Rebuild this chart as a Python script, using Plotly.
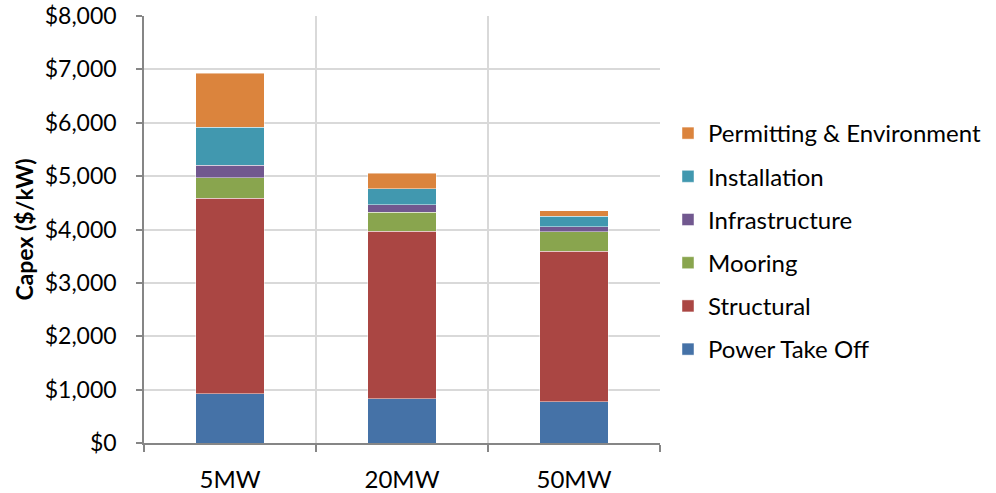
import plotly.graph_objects as go

categories = ["5MW", "20MW", "50MW"]
power_take_off = [924, 825, 769]
structural = [3662, 3143, 2824]
mooring = [383, 356, 363]
infrastructure = [236, 139, 100]
installation = [713, 305, 193]
permitting = [1010, 282, 107]

series = [
    ("Power Take Off", power_take_off, "#4572A7"),
    ("Structural", structural, "#AA4643"),
    ("Mooring", mooring, "#89A54E"),
    ("Infrastructure", infrastructure, "#71588F"),
    ("Installation", installation, "#4198AF"),
    ("Permitting & Environment", permitting, "#DB843D"),
]

FONT = "Lato"
fig = go.Figure()
n = len(series)
for i, (name, vals, color) in enumerate(series):
    fig.add_trace(go.Bar(
        x=categories, y=vals, name=name, legendgroup=f"g{i}", legendrank=n - i,
        marker=dict(color=color, line=dict(color="rgba(255,255,255,0.45)", width=1)),
        width=0.4,
    ))

fig.update_layout(
    barmode="stack",
    width=996, height=493,
    margin=dict(l=144, r=336, t=16, b=50, autoexpand=False),
    paper_bgcolor="white", plot_bgcolor="white",
    font=dict(family=FONT, size=23, color="black"),
    showlegend=True,
    legend=dict(
        x=1.0155, xanchor="left", y=0.7775, yanchor="top",
        traceorder="grouped", tracegroupgap=9,
        font=dict(family=FONT, size=24, color="black"),
        bgcolor="rgba(0,0,0,0)",
    ),
    xaxis=dict(
        type="category", tickson="boundaries", showgrid=True, gridcolor="#D9D9D9", gridwidth=1.5,
        ticks="outside", ticklen=7, tickcolor="#868686", tickwidth=1.5,
        showline=True, linecolor="#868686", linewidth=1.5,
        tickfont=dict(family=FONT, size=24), ticklabelstandoff=14,
        ticklabeloverflow="allow",
    ),
    yaxis=dict(
        range=[0, 8000], dtick=1000, tickprefix="$", tickformat=",d",
        showgrid=True, gridcolor="#D9D9D9", gridwidth=1.5,
        ticks="outside", ticklen=6, tickcolor="#868686", tickwidth=1.5,
        showline=True, linecolor="#868686", linewidth=1.5,
        tickfont=dict(family=FONT, size=23), zeroline=False, ticklabelstandoff=15,
        ticklabeloverflow="allow",
        title=dict(text="<b>Capex ($/kW)</b>", font=dict(family=FONT, size=23), standoff=5),
    ),
)

fig.write_html("out.html", config={"displayModeBar": False},
               post_script="document.body.style.margin='0';")
